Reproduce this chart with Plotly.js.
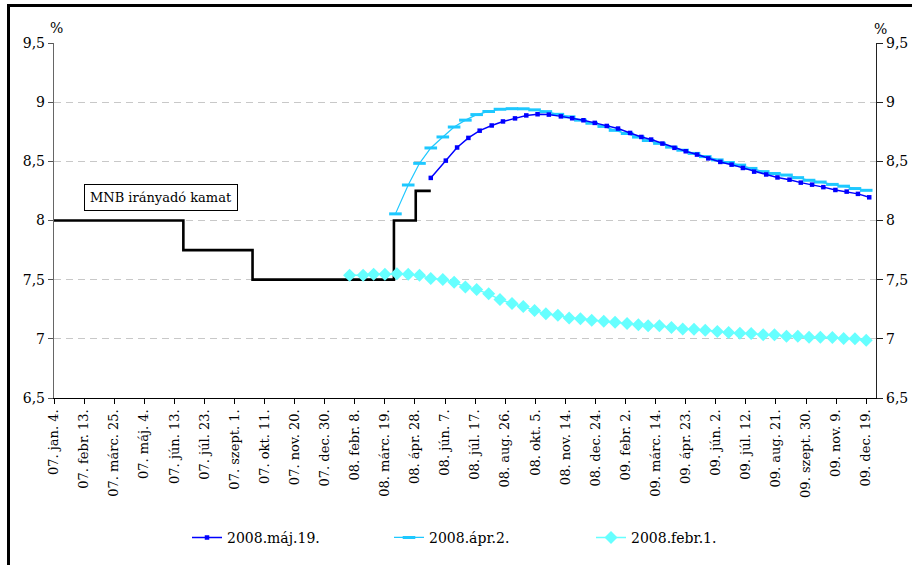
<!DOCTYPE html>
<html>
<head>
<meta charset="utf-8">
<script src="https://cdn.plot.ly/plotly-3.0.1.min.js"></script>
<style>
html,body{margin:0;padding:0;background:#fff;}
#chart{width:912px;height:565px;}
</style>
</head>
<body>
<div id="chart"></div>
<script>
// MNB policy rate (step changes)
var mnbDates = ['2007-01-04','2007-06-25','2007-09-25','2008-03-31','2008-04-29','2008-05-19'];
var mnbRate  = [8.0, 7.75, 7.5, 8.0, 8.25, 8.25];

// Forward curve 2008.máj.19.
var mayDates = ['2008-05-19','2008-06-08','2008-06-23','2008-07-08','2008-07-23','2008-08-08','2008-08-23','2008-09-08','2008-09-23','2008-10-08','2008-10-23','2008-11-08','2008-11-23','2008-12-08','2008-12-23',
 '2009-01-08','2009-01-23','2009-02-08','2009-02-23','2009-03-08','2009-03-23','2009-04-08','2009-04-23','2009-05-08','2009-05-23','2009-06-08','2009-06-23','2009-07-08','2009-07-23','2009-08-08','2009-08-23','2009-09-08','2009-09-23','2009-10-08','2009-10-23','2009-11-08','2009-11-23','2009-12-08','2009-12-23'];
var mayValues = [8.36, 8.506, 8.617, 8.698, 8.759, 8.803, 8.837, 8.863, 8.888, 8.898, 8.895, 8.880, 8.864, 8.847, 8.825, 8.799, 8.777, 8.740, 8.706, 8.684, 8.650, 8.614, 8.585, 8.557, 8.525, 8.495, 8.472, 8.444, 8.413, 8.389, 8.364, 8.345, 8.320, 8.303, 8.282, 8.258, 8.244, 8.225, 8.196];

// Forward curve 2008.ápr.2.
var aprDates = ['2008-04-02','2008-04-19','2008-05-04','2008-05-19','2008-06-04','2008-06-19','2008-07-04','2008-07-19','2008-08-04','2008-08-19','2008-09-04','2008-09-19','2008-10-04','2008-10-19','2008-11-04','2008-11-19','2008-12-04','2008-12-19',
 '2009-01-04','2009-01-19','2009-02-04','2009-02-19','2009-03-04','2009-03-19','2009-04-04','2009-04-19','2009-05-04','2009-05-19','2009-06-04','2009-06-19','2009-07-04','2009-07-19','2009-08-04','2009-08-19','2009-09-04','2009-09-19','2009-10-04','2009-10-19','2009-11-04','2009-11-19','2009-12-04','2009-12-19'];
var aprValues = [8.056, 8.30, 8.483, 8.613, 8.706, 8.79, 8.848, 8.895, 8.921, 8.940, 8.945, 8.944, 8.935, 8.92, 8.897, 8.876, 8.848, 8.822, 8.795, 8.762, 8.735, 8.705, 8.676, 8.652, 8.62, 8.594, 8.567, 8.54, 8.512, 8.49, 8.468, 8.44, 8.413, 8.397, 8.384, 8.362, 8.340, 8.325, 8.305, 8.290, 8.27, 8.255];

// Forward curve 2008.febr.1.
var febDates = ['2008-02-01','2008-02-19','2008-03-04','2008-03-19','2008-04-04','2008-04-19','2008-05-04','2008-05-19','2008-06-04','2008-06-19','2008-07-04','2008-07-19','2008-08-04','2008-08-19','2008-09-04','2008-09-19','2008-10-04','2008-10-19','2008-11-04','2008-11-19','2008-12-04','2008-12-19',
 '2009-01-04','2009-01-19','2009-02-04','2009-02-19','2009-03-04','2009-03-19','2009-04-04','2009-04-19','2009-05-04','2009-05-19','2009-06-04','2009-06-19','2009-07-04','2009-07-19','2009-08-04','2009-08-19','2009-09-04','2009-09-19','2009-10-04','2009-10-19','2009-11-04','2009-11-19','2009-12-04','2009-12-19'];
var febValues = [7.537, 7.537, 7.546, 7.546, 7.549, 7.546, 7.537, 7.509, 7.501, 7.478, 7.439, 7.416, 7.380, 7.332, 7.298, 7.273, 7.239, 7.211, 7.199, 7.177, 7.169, 7.157, 7.149, 7.140, 7.129, 7.118, 7.110, 7.110, 7.095, 7.084, 7.081, 7.073, 7.062, 7.053, 7.047, 7.045, 7.034, 7.034, 7.022, 7.022, 7.014, 7.014, 7.011, 7.003, 7.000, 6.988];

// X tick labels
var tickDates = ['2007-01-04','2007-02-13','2007-03-25','2007-05-04','2007-06-13','2007-07-23','2007-09-01','2007-10-11','2007-11-20','2007-12-30',
 '2008-02-08','2008-03-19','2008-04-28','2008-06-07','2008-07-17','2008-08-26','2008-10-05','2008-11-14','2008-12-24',
 '2009-02-02','2009-03-14','2009-04-23','2009-06-02','2009-07-12','2009-08-21','2009-09-30','2009-11-09','2009-12-19'];
var tickLabels = ['07. jan. 4.','07. febr. 13.','07. márc. 25.','07. máj. 4.','07. jún. 13.','07. júl. 23.','07. szept. 1.','07. okt. 11.','07. nov. 20.','07. dec. 30.',
 '08. febr. 8.','08. márc. 19.','08. ápr. 28.','08. jún. 7.','08. júl. 17.','08. aug. 26.','08. okt. 5.','08. nov. 14.','08. dec. 24.',
 '09. febr. 2.','09. márc. 14.','09. ápr. 23.','09. jún. 2.','09. júl. 12.','09. aug. 21.','09. szept. 30.','09. nov. 9.','09. dec. 19.'];

var seriesNames = ['2008.máj.19.','2008.ápr.2.','2008.febr.1.'];
var annotationText = 'MNB irányadó kamat';

var FONT = 'DejaVu Serif';

var traces = [
  {x: mnbDates, y: mnbRate, type:'scatter', mode:'lines', line:{shape:'hv', color:'#000000', width:2.6},
   showlegend:false, hoverinfo:'skip'},
  {x: febDates, y: febValues, type:'scatter', mode:'lines+markers', name: seriesNames[2],
   line:{color:'#66FFFF', width:1.5}, marker:{symbol:'diamond', size:10, color:'#66FFFF'}},
  {x: aprDates, y: aprValues, type:'scatter', mode:'lines+markers', name: seriesNames[1],
   line:{color:'#1EC8FF', width:1.2}, marker:{symbol:'line-ew', size:9, color:'#1EC8FF', line:{color:'#1EC8FF', width:3}}},
  {x: mayDates, y: mayValues, type:'scatter', mode:'lines+markers', name: seriesNames[0],
   line:{color:'#0000FF', width:1.5}, marker:{symbol:'square', size:4.5, color:'#0000FF'}},
  {x: [mnbDates[0]], y: [mnbRate[0]], yaxis:'y2', type:'scatter', mode:'none', showlegend:false, hoverinfo:'skip'}
];

var layout = {
  width: 912, height: 565,
  margin: {l:54, r:36, t:43, b:167, pad:0, autoexpand:false},
  paper_bgcolor:'#ffffff', plot_bgcolor:'#ffffff',
  separators: ',.',
  font: {family: FONT, size:14, color:'#000'},
  showlegend: true,
  legend: {orientation:'h', x:(187-54)/822, xanchor:'left', y:-0.394, yanchor:'middle',
           font:{family:FONT, size:14, color:'#000'}, entrywidth:157, entrywidthmode:'pixels',
           traceorder:'reversed', bgcolor:'rgba(0,0,0,0)'},
  xaxis: {
    type:'date', range:['2007-01-04','2010-01-01'], automargin:false,
    tickmode:'array', tickvals: tickDates, ticktext: tickLabels,
    tickangle:-90, tickfont:{family:FONT, size:13, color:'#000'},
    ticks:'outside', ticklen:5, tickcolor:'#000', tickwidth:1,
    showline:true, linecolor:'#000', linewidth:1.2,
    showgrid:false, zeroline:false
  },
  yaxis: {
    range:[6.5, 9.5], dtick:0.5, tick0:6.5, automargin:false,
    tickfont:{family:FONT, size:14, color:'#000'},
    ticks:'outside', ticklen:5, tickcolor:'#555', tickwidth:1,
    showline:true, linecolor:'#666', linewidth:1.2,
    showgrid:true, gridcolor:'#c8c8c8', gridwidth:1, griddash:'7px,5px',
    zeroline:false
  },
  yaxis2: {
    overlaying:'y', side:'right', range:[6.5, 9.5], dtick:0.5, tick0:6.5, automargin:false,
    tickfont:{family:FONT, size:14, color:'#000'},
    ticks:'outside', ticklen:6, tickcolor:'#222', tickwidth:1,
    showline:true, linecolor:'#222', linewidth:1.2,
    showgrid:false, zeroline:false
  },
  annotations: [
    {xref:'paper', yref:'paper', x:(161-54)/822, y:(398-197.5)/355, text: annotationText, showarrow:false,
     font:{family:FONT, size:13, color:'#000'}, bordercolor:'#000', borderwidth:1, borderpad:5,
     bgcolor:'#fff', xanchor:'center', yanchor:'middle'},
    {xref:'paper', yref:'paper', x:(56.5-54)/822, y:(398-27.5)/355, text:'%', showarrow:false,
     font:{family:FONT, size:14, color:'#000'}, xanchor:'center', yanchor:'middle'},
    {xref:'paper', yref:'paper', x:(880-54)/822, y:(398-28.5)/355, text:'%', showarrow:false,
     font:{family:FONT, size:14, color:'#000'}, xanchor:'center', yanchor:'middle'}
  ],
  shapes: [
    {type:'rect', xref:'paper', yref:'paper',
     x0:(8.5-54)/822, x1:(925-54)/822, y0:(398-580)/355, y1:(398-5.5)/355,
     line:{color:'#000', width:3}, fillcolor:'rgba(0,0,0,0)'}
  ]
};

Plotly.newPlot('chart', traces, layout, {staticPlot:true, displayModeBar:false});
</script>
</body>
</html>
